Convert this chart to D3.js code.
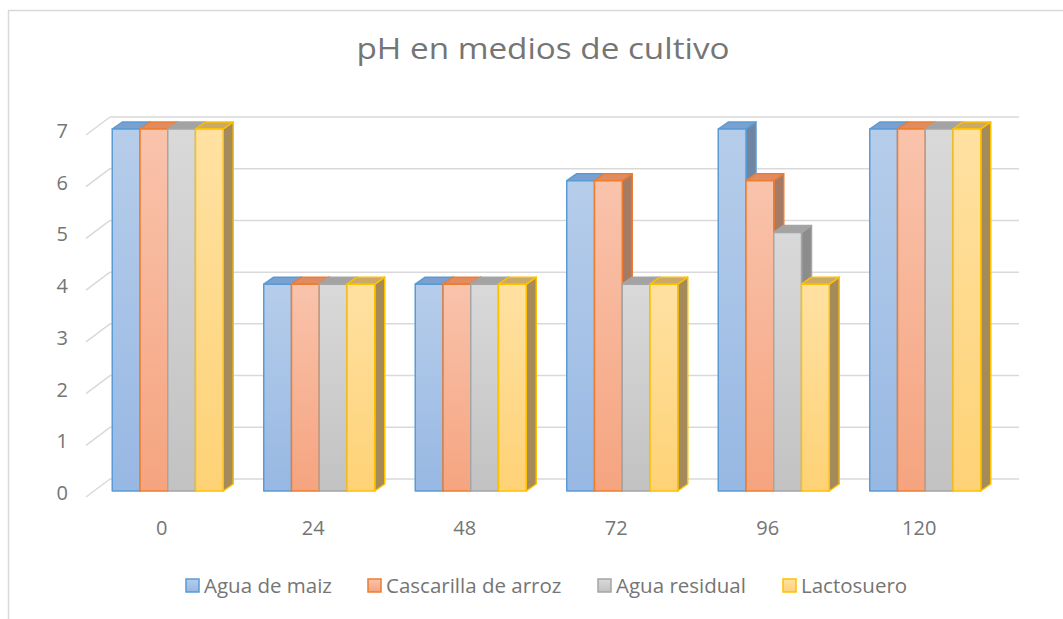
<!DOCTYPE html>
<html>
<head>
<meta charset="utf-8">
<script src="https://cdn.jsdelivr.net/npm/d3@7"></script>
<style>
  body { margin: 0; background: #fff; }
  text { font-family: "Open Sans", sans-serif; fill: #757575; }
</style>
</head>
<body>
<div id="chart"></div>
<script>
var hours = ["0", "24", "48", "72", "96", "120"];
var seriesNames = ["Agua de maiz", "Cascarilla de arroz", "Agua residual", "Lactosuero"];
var aguaMaiz = [7, 4, 4, 6, 7, 7];
var cascarilla = [7, 4, 4, 6, 6, 7];
var aguaResidual = [7, 4, 4, 4, 5, 7];
var lactosuero = [7, 4, 4, 4, 4, 7];
var yTicks = [0, 1, 2, 3, 4, 5, 6, 7];

var seriesValues = [aguaMaiz, cascarilla, aguaResidual, lactosuero];

// colours: front gradient top/bottom, stroke, top face, side face
var colors = [
  { top: "#b6cdea", bottom: "#97b8e3", stroke: "#5b9bd5", cap: "#7aa0cf", side: "#6f86a3" },
  { top: "#f9c3ac", bottom: "#f5a47f", stroke: "#ed7d31", cap: "#e08b60", side: "#a67a63" },
  { top: "#d9d9d9", bottom: "#c2c2c2", stroke: "#a5a5a5", cap: "#a3a3a3", side: "#8c8c8c" },
  { top: "#ffe1a2", bottom: "#fed276", stroke: "#ffc000", cap: "#c9aa66", side: "#a68b5a" }
];

var svgWidth = 1063;
var svgHeight = 619;

var svg = d3.select("#chart")
  .append("svg")
  .attr("width", svgWidth)
  .attr("height", svgHeight);

// outer frame (right and bottom edges fall outside the picture)
svg.append("rect")
  .attr("x", 8.5)
  .attr("y", 10.5)
  .attr("width", 1080)
  .attr("height", 640)
  .attr("fill", "#fff")
  .attr("stroke", "#d9d9d9")
  .attr("stroke-width", 1.5);

// 3D offsets
var wall = { dx: 24, dy: -18 };     // back wall vs front floor edge
var barOff = { dx: 6, dy: -6 };     // bar front face vs front edge
var depth = { dx: 10, dy: -7 };     // depth of each bar

var x = d3.scaleBand()
  .domain(hours)
  .range([86, 995]);

var y = d3.scaleLinear()
  .domain([0, 7])
  .range([497, 135]);

var groupPad = (x.bandwidth() - 111) / 2;
var xInner = d3.scaleBand()
  .domain(d3.range(seriesNames.length))
  .range([groupPad, x.bandwidth() - groupPad]);

// gradients
var defs = svg.append("defs");
colors.forEach(function(c, i) {
  var g = defs.append("linearGradient")
    .attr("id", "grad" + i)
    .attr("x1", 0).attr("y1", 0).attr("x2", 0).attr("y2", 1);
  g.append("stop").attr("offset", "0%").attr("stop-color", c.top);
  g.append("stop").attr("offset", "100%").attr("stop-color", c.bottom);
});

// back wall gridlines + left side diagonals
var grid = svg.append("g");
grid.selectAll(".hline")
  .data(yTicks)
  .enter()
  .append("line")
  .attr("x1", x.range()[0] + wall.dx)
  .attr("x2", 1019)
  .attr("y1", d => y(d) + wall.dy)
  .attr("y2", d => y(d) + wall.dy)
  .attr("stroke", "#d9d9d9")
  .attr("stroke-width", 1.5);

grid.selectAll(".diag")
  .data(yTicks)
  .enter()
  .append("line")
  .attr("x1", x.range()[0])
  .attr("x2", x.range()[0] + wall.dx)
  .attr("y1", d => y(d))
  .attr("y2", d => y(d) + wall.dy)
  .attr("stroke", "#d9d9d9")
  .attr("stroke-width", 1.5);

// y tick labels
svg.append("g")
  .selectAll("text")
  .data(yTicks)
  .enter()
  .append("text")
  .attr("x", 68)
  .attr("y", d => y(d) - 4)
  .attr("dy", "0.35em")
  .attr("text-anchor", "end")
  .attr("font-size", "20px")
  .text(d => d);

// bars
var bars = svg.append("g");
hours.forEach(function(h, gi) {
  seriesValues.forEach(function(vals, si) {
    var c = colors[si];
    var x0 = x(h) + xInner(si) + barOff.dx;
    var x1 = x0 + xInner.bandwidth();
    var yTop = y(vals[gi]) + barOff.dy;
    var yBot = y(0) + barOff.dy;
    var b = bars.append("g")
      .attr("stroke", c.stroke)
      .attr("stroke-width", 1.5)
      .attr("stroke-linejoin", "round");
    // side face
    b.append("path")
      .attr("d", "M" + x1 + "," + yTop +
        "L" + (x1 + depth.dx) + "," + (yTop + depth.dy) +
        "L" + (x1 + depth.dx) + "," + (yBot + depth.dy) +
        "L" + x1 + "," + yBot + "Z")
      .attr("fill", c.side);
    // top face
    b.append("path")
      .attr("d", "M" + x0 + "," + yTop +
        "L" + (x0 + depth.dx) + "," + (yTop + depth.dy) +
        "L" + (x1 + depth.dx) + "," + (yTop + depth.dy) +
        "L" + x1 + "," + yTop + "Z")
      .attr("fill", c.cap);
    // front face
    b.append("rect")
      .attr("x", x0)
      .attr("y", yTop)
      .attr("width", x1 - x0)
      .attr("height", yBot - yTop)
      .attr("fill", "url(#grad" + si + ")");
  });
});

// category labels
svg.append("g")
  .selectAll("text")
  .data(hours)
  .enter()
  .append("text")
  .attr("x", d => x(d) + x.bandwidth() / 2)
  .attr("y", 535)
  .attr("text-anchor", "middle")
  .attr("font-size", "20px")
  .text(d => d);

// title
svg.append("text")
  .attr("x", 543)
  .attr("y", 59)
  .attr("text-anchor", "middle")
  .attr("font-size", "29px")
  .attr("textLength", 373)
  .attr("lengthAdjust", "spacingAndGlyphs")
  .text("pH en medios de cultivo");

// legend
var legendX = [186, 368, 598, 783];
var legend = svg.append("g");
seriesNames.forEach(function(name, i) {
  legend.append("rect")
    .attr("x", legendX[i])
    .attr("y", 579)
    .attr("width", 13)
    .attr("height", 13)
    .attr("fill", "url(#grad" + i + ")")
    .attr("stroke", colors[i].stroke)
    .attr("stroke-width", 1.5);
  legend.append("text")
    .attr("x", legendX[i] + 18)
    .attr("y", 593)
    .attr("font-size", "20.5px")
    .text(name);
});
</script>
</body>
</html>
